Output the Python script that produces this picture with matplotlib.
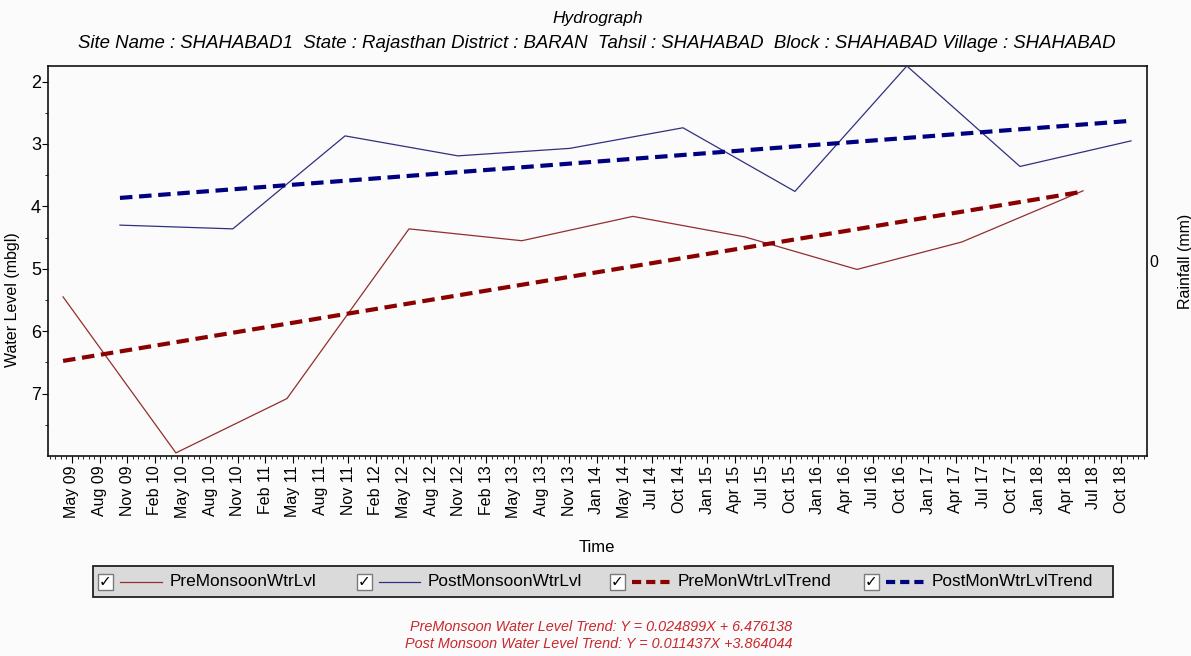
import matplotlib
matplotlib.use("Agg")
import matplotlib.pyplot as plt
import matplotlib.dates as mdates
from matplotlib.patches import Rectangle
from matplotlib.lines import Line2D
import numpy as np
import pandas as pd

# ---- observations -------------------------------------------------------
pre_dates = ["2009-04-30", "2010-05-02", "2011-04-28", "2012-05-29", "2013-05-31",
             "2014-05-27", "2015-05-27", "2016-05-25", "2017-05-01", "2018-05-30"]
pre_levels = [5.45, 7.95, 7.08, 4.36, 4.55, 4.16, 4.49, 5.01, 4.57, 3.75]

post_dates = ["2009-11-01", "2010-11-03", "2011-11-03", "2012-11-04", "2013-11-03",
              "2014-11-06", "2015-11-05", "2016-11-03", "2017-11-06", "2018-11-02"]
post_levels = [4.30, 4.36, 2.87, 3.19, 3.07, 2.74, 3.76, 1.75, 3.36, 2.95]

# trend coefficients (X in months from the first reading of each season)
pre_slope, pre_icpt = 0.024899, 6.476138
post_slope, post_icpt = 0.011437, 3.864044

tick_labels = ["May 09", "Aug 09", "Nov 09", "Feb 10", "May 10", "Aug 10", "Nov 10",
               "Feb 11", "May 11", "Aug 11", "Nov 11", "Feb 12", "May 12", "Aug 12",
               "Nov 12", "Feb 13", "May 13", "Aug 13", "Nov 13", "Jan 14", "May 14",
               "Jul 14", "Oct 14", "Jan 15", "Apr 15", "Jul 15", "Oct 15", "Jan 16",
               "Apr 16", "Jul 16", "Oct 16", "Jan 17", "Apr 17", "Jul 17", "Oct 17",
               "Jan 18", "Apr 18", "Jul 18", "Oct 18"]
tick_first, tick_last = "2009-05-29", "2018-10-02"
x_start, x_end = "2009-03-12", "2018-12-24"

legend_labels = ["PreMonsoonWtrLvl", "PostMonsoonWtrLvl",
                 "PreMonWtrLvlTrend", "PostMonWtrLvlTrend"]

# ---- styling -----------------------------------------------------------
FONT = "Liberation Sans"
plt.rcParams["font.family"] = [FONT, "DejaVu Sans"]
BG = "#fbfbfb"
PRE_COLOR = "#922e2e"
POST_COLOR = "#30307e"
PRE_TREND = "#8b0000"
POST_TREND = "#000080"
EQ_COLOR = "#c8282e"

W, H = 1191, 656
fig = plt.figure(figsize=(W / 100, H / 100), dpi=100)
fig.patch.set_facecolor(BG)


def fx(px):
    return px / W


def fy(py):
    return 1 - py / H


ax = fig.add_axes([fx(48), fy(456), fx(1147) - fx(48), fy(66) - fy(456)])
ax.set_facecolor(BG)

to_num = lambda d: mdates.date2num(pd.to_datetime(d))
pre_x = [to_num(d) for d in pre_dates]
post_x = [to_num(d) for d in post_dates]


def trend(xs, slope, icpt):
    months = (np.array(xs) - xs[0]) / 30.4375
    return icpt - slope * months


ax.plot(pre_x, pre_levels, color=PRE_COLOR, lw=0.9, zorder=3)
ax.plot(post_x, post_levels, color=POST_COLOR, lw=0.9, zorder=3)

pre_ends = [pre_x[0], pre_x[-1]]
post_ends = [post_x[0], post_x[-1]]
ax.plot(pre_ends, trend(pre_ends, pre_slope, pre_icpt), color=PRE_TREND, lw=3.0,
        dashes=(3.0, 1.6), zorder=4)
ax.plot(post_ends, trend(post_ends, post_slope, post_icpt), color=POST_TREND, lw=3.0,
        dashes=(3.0, 1.6), zorder=4)

# ---- axes --------------------------------------------------------------
ax.set_xlim(to_num(x_start), to_num(x_end))
ax.set_ylim(8.0, 1.75)

major = np.linspace(to_num(tick_first), to_num(tick_last), len(tick_labels))
step = (major[1] - major[0]) / 5
lo, hi = ax.get_xlim()
minor = np.arange(major[0] - step * np.floor((major[0] - lo) / step), hi, step)
ax.set_xticks(major)
ax.set_xticklabels(tick_labels, rotation=90, fontsize=11.5)
ax.set_xticks(minor, minor=True)
ax.tick_params(axis="x", which="major", length=5, width=0.8, pad=2, direction="out")
ax.tick_params(axis="x", which="minor", length=2.5, width=0.6, direction="out")

ax.set_yticks([2, 3, 4, 5, 6, 7])
ax.set_yticks([2.5, 3.5, 4.5, 5.5, 6.5, 7.5], minor=True)
ax.tick_params(axis="y", which="major", length=4, width=0.8, pad=1, labelsize=13)
ax.tick_params(axis="y", which="minor", length=2.5, width=0.6)

for s in ax.spines.values():
    s.set_linewidth(1.2)
    s.set_color("#111111")

ax.set_ylabel("Water Level (mbgl)", fontsize=11.5)
ax.yaxis.set_label_coords(fx(18) - fx(48), (fy(300) - fy(456)) / (fy(66) - fy(456)))
ax.set_xlabel("Time", fontsize=12)
ax.xaxis.set_label_coords((fx(597) - fx(48)) / (fx(1147) - fx(48)),
                          (fy(540) - fy(456)) / (fy(66) - fy(456)))

ax2 = ax.twinx()
ax2.set_ylim(-1, 1)
ax2.set_yticks([0])
ax2.tick_params(axis="y", length=0, pad=2, labelsize=11.5)
ax2.set_ylabel("Rainfall (mm)", fontsize=11.5, rotation=90)
ax2.yaxis.set_label_coords((fx(1178) - fx(48)) / (fx(1147) - fx(48)), 0.5)
for s in ax2.spines.values():
    s.set_visible(False)

# ---- titles ------------------------------------------------------------
fig.text(fx(598), fy(19), "Hydrograph", ha="center", va="center",
         fontsize=12.5, style="italic")
fig.text(fx(597), fy(44),
         "Site Name : SHAHABAD1  State : Rajasthan District : BARAN  Tahsil : SHAHABAD  "
         "Block : SHAHABAD Village : SHAHABAD",
         ha="center", va="center", fontsize=13.4, style="italic")

# ---- legend strip with check boxes --------------------------------------
box_l, box_r, box_t, box_b = 93, 1113, 566, 597
fig.patches.append(Rectangle((fx(box_l), fy(box_b)), fx(box_r) - fx(box_l),
                             fy(box_t) - fy(box_b), transform=fig.transFigure,
                             facecolor="#dadada", edgecolor="#202020", lw=1.3))

legend_styles = [
    (98, 170, PRE_COLOR, 0.9, None),
    (357, 428, POST_COLOR, 0.9, None),
    (610, 678, PRE_TREND, 3.0, (2.2, 1.2)),
    (864, 932, POST_TREND, 3.0, (2.2, 1.2)),
]
cy = (box_t + box_b) / 2
for label, (x0, xt, color, lw, dash) in zip(legend_labels, legend_styles):
    fig.patches.append(Rectangle((fx(x0), fy(cy + 8)), fx(15), fy(cy - 8) - fy(cy + 8),
                                 transform=fig.transFigure, facecolor="white",
                                 edgecolor="#7a7a7a", lw=1.0))
    fig.text(fx(x0 + 7.5), fy(cy), "\u2713", ha="center", va="center",
             fontsize=11, fontweight="bold", family=["DejaVu Sans"])
    ln = Line2D([fx(x0 + 22), fx(xt - 8)], [fy(cy), fy(cy)], transform=fig.transFigure,
                color=color, lw=lw)
    if dash:
        ln.set_dashes(dash)
    fig.lines.append(ln)
    fig.text(fx(xt), fy(cy), label, ha="left", va="center", fontsize=12.4)

# ---- trend equations ----------------------------------------------------
fig.text(fx(601), fy(627),
         f"PreMonsoon Water Level Trend: Y = {pre_slope:.6f}X + {pre_icpt:.6f}",
         ha="center", va="center", fontsize=10.4, style="italic", color=EQ_COLOR)
fig.text(fx(599), fy(644),
         f"Post Monsoon Water Level Trend: Y = {post_slope:.6f}X +{post_icpt:.6f}",
         ha="center", va="center", fontsize=10.4, style="italic", color=EQ_COLOR)

fig.savefig("out.png", dpi=100, facecolor=BG)
